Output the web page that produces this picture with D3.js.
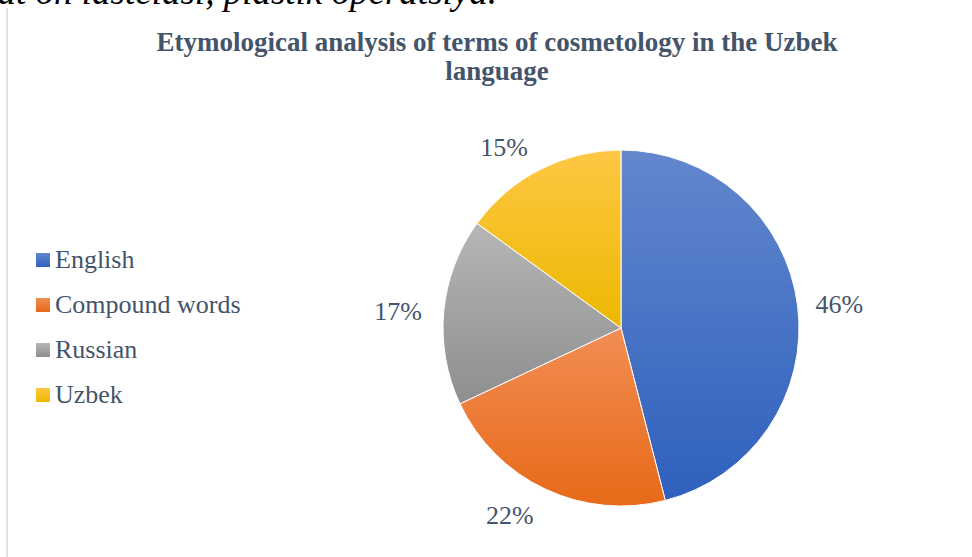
<!DOCTYPE html>
<html>
<head>
<meta charset="utf-8">
<script src="https://cdn.jsdelivr.net/npm/d3@7"></script>
<style>
  html, body { margin: 0; padding: 0; background: #fff; }
  svg { display: block; }
</style>
</head>
<body>
<div id="container"></div>
<script>
// ---------- DATA ----------
const categories = ['English', 'Compound words', 'Russian', 'Uzbek'];
const values = [46, 22, 17, 15];
const labels = ['46%', '22%', '17%', '15%'];
const titleLines = ['Etymological analysis of terms of cosmetology in the Uzbek', 'language'];
const topText = 'uat on lastelasi, plastik operatsiya.';

// colours: gradient top, gradient bottom
const colors = [
    { top: '#6287cd', bottom: '#2f60bd' },
    { top: '#f28d54', bottom: '#e76a18' },
    { top: '#b6b6b6', bottom: '#8e8e8e' },
    { top: '#ffc744', bottom: '#ecb800' }
];

// ---------- DIMENSIONS ----------
const width = 972;
const height = 557;
const cx = 621;
const cy = 328;
const radius = 178;
const textColor = '#44546a';
const serif = "'Liberation Serif', 'Times New Roman', serif";

const svg = d3.select('#container').append('svg')
    .attr('width', width)
    .attr('height', height);

// page text cut off above the chart
svg.append('text')
    .attr('x', 497)
    .attr('y', 4)
    .attr('text-anchor', 'end')
    .attr('font-family', serif)
    .attr('font-style', 'italic')
    .attr('font-size', 37)
    .attr('fill', '#000')
    .text(topText);

// left frame edge
svg.append('line')
    .attr('x1', 7).attr('x2', 7)
    .attr('y1', 8).attr('y2', height)
    .attr('stroke', '#dfe4ea')
    .attr('stroke-width', 2);

// ---------- TITLE ----------
const title = svg.append('text')
    .attr('text-anchor', 'middle')
    .attr('font-family', serif)
    .attr('font-weight', 'bold')
    .attr('font-size', 27)
    .attr('fill', textColor);

title.selectAll('tspan')
    .data(titleLines)
    .join('tspan')
    .attr('x', 497)
    .attr('y', (d, i) => 51 + i * 29)
    .text(d => d);

// ---------- GRADIENTS ----------
const defs = svg.append('defs');
colors.forEach((c, i) => {
    const g = defs.append('linearGradient')
        .attr('id', 'grad' + i)
        .attr('x1', 0).attr('y1', 0)
        .attr('x2', 0).attr('y2', 1);
    g.append('stop').attr('offset', '0%').attr('stop-color', c.top);
    g.append('stop').attr('offset', '100%').attr('stop-color', c.bottom);
});

// ---------- PIE ----------
const pie = d3.pie().sort(null).value(d => d);
const arcs = pie(values);
const arc = d3.arc().innerRadius(0).outerRadius(radius);

const gPie = svg.append('g')
    .attr('transform', `translate(${cx},${cy})`);

gPie.selectAll('path')
    .data(arcs)
    .join('path')
    .attr('d', arc)
    .attr('fill', (d, i) => `url(#grad${i})`)
    .attr('stroke', '#fff')
    .attr('stroke-width', 1);

// outside-end labels
const labelOffset = 18;
gPie.selectAll('text.label')
    .data(arcs)
    .join('text')
    .attr('class', 'label')
    .attr('font-family', serif)
    .attr('font-size', 26)
    .attr('fill', textColor)
    .each(function (d, i) {
        const a = (d.startAngle + d.endAngle) / 2;
        const dx = Math.sin(a);
        const dy = -Math.cos(a);
        const r = radius + labelOffset;
        const x = dx * r + (dx < 0 ? -4 : 0);
        const y = dy * r + dy * 9 + 11;
        d3.select(this)
            .attr('x', x)
            .attr('y', y)
            .attr('text-anchor', dx < 0 ? 'end' : 'start')
            .text(labels[i]);
    });

// ---------- LEGEND ----------
const legend = svg.append('g');
const rows = legend.selectAll('g')
    .data(categories)
    .join('g')
    .attr('transform', (d, i) => `translate(36,${268 + i * 45})`);

rows.append('rect')
    .attr('x', 0)
    .attr('y', -15)
    .attr('width', 14)
    .attr('height', 14)
    .attr('fill', (d, i) => `url(#grad${i})`);

rows.append('text')
    .attr('x', 19)
    .attr('y', 0)
    .attr('font-family', serif)
    .attr('font-size', 26)
    .attr('fill', textColor)
    .text(d => d);
</script>
</body>
</html>
